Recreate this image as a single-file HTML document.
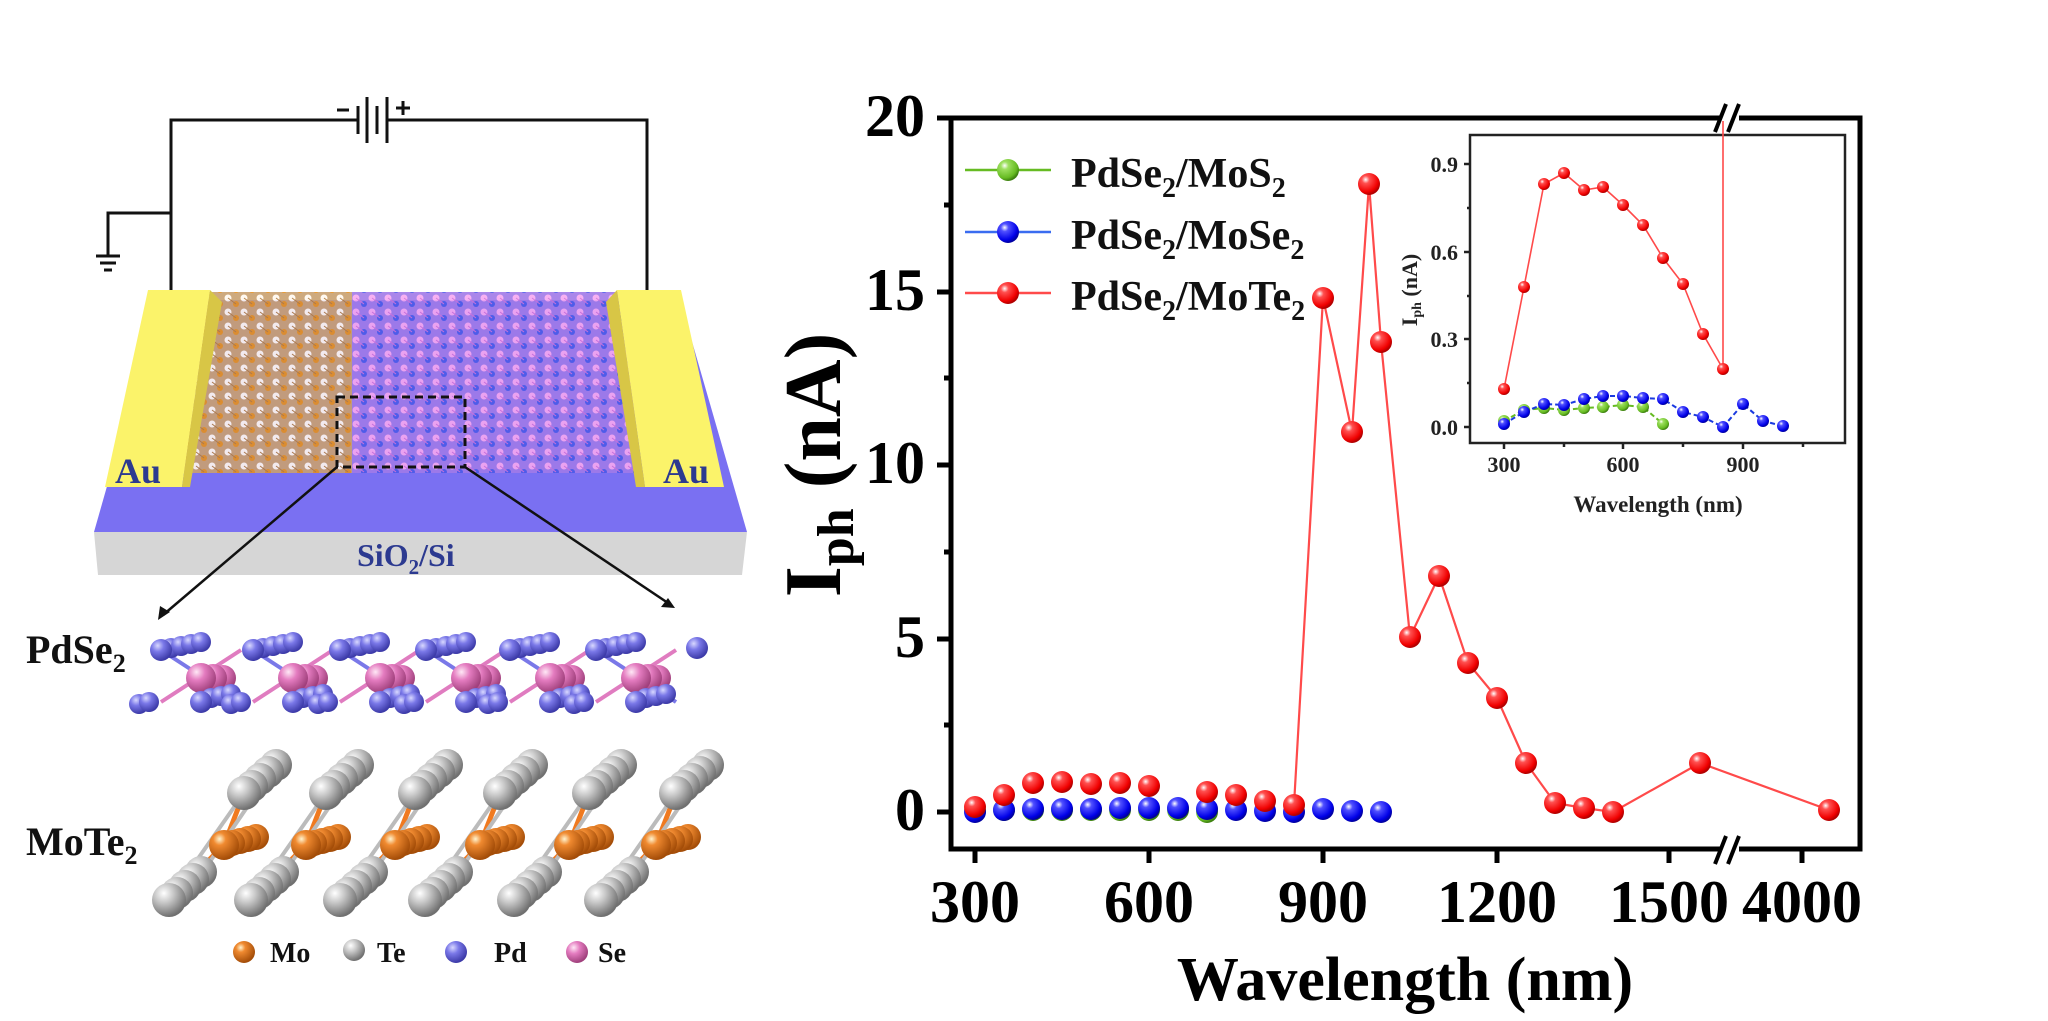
<!DOCTYPE html>
<html><head><meta charset="utf-8"><style>
html,body{margin:0;padding:0;background:#fff;}
svg{display:block;font-family:"Liberation Serif",serif;font-weight:bold;}
</style></head><body>
<svg width="2048" height="1021" viewBox="0 0 2048 1021" xmlns="http://www.w3.org/2000/svg">
<defs>
<radialGradient id="gR" cx="35%" cy="30%" r="70%"><stop offset="0" stop-color="#fff"/><stop offset="0.25" stop-color="#ff5050"/><stop offset="0.8" stop-color="#f00000"/><stop offset="1" stop-color="#b00000"/></radialGradient>
<radialGradient id="gB" cx="35%" cy="30%" r="70%"><stop offset="0" stop-color="#fff"/><stop offset="0.25" stop-color="#5050ff"/><stop offset="0.8" stop-color="#0000e8"/><stop offset="1" stop-color="#0000a0"/></radialGradient>
<radialGradient id="gG" cx="35%" cy="30%" r="70%"><stop offset="0" stop-color="#fff"/><stop offset="0.25" stop-color="#9ee060"/><stop offset="0.8" stop-color="#66bb22"/><stop offset="1" stop-color="#3d8010"/></radialGradient>
<radialGradient id="gMo" cx="35%" cy="30%" r="70%"><stop offset="0" stop-color="#fff4d0"/><stop offset="0.3" stop-color="#f08a30"/><stop offset="1" stop-color="#a44d08"/></radialGradient>
<radialGradient id="gTe" cx="35%" cy="30%" r="70%"><stop offset="0" stop-color="#fff"/><stop offset="0.4" stop-color="#c8c8c8"/><stop offset="1" stop-color="#707070"/></radialGradient>
<radialGradient id="gPd" cx="35%" cy="30%" r="70%"><stop offset="0" stop-color="#d8d8ff"/><stop offset="0.4" stop-color="#7a78e8"/><stop offset="1" stop-color="#3c3aa8"/></radialGradient>
<radialGradient id="gSe" cx="35%" cy="30%" r="70%"><stop offset="0" stop-color="#ffe8f6"/><stop offset="0.4" stop-color="#e47cc0"/><stop offset="1" stop-color="#a0407c"/></radialGradient>
<pattern id="pL" width="16" height="14" patternUnits="userSpaceOnUse"><rect width="16" height="14" fill="#c9a070"/><circle cx="4" cy="4" r="3.5" fill="#fff8ee"/><circle cx="12" cy="10" r="3" fill="#e6901c"/><line x1="4" y1="4" x2="12" y2="10" stroke="#b07a3c" stroke-width="1"/></pattern>
<pattern id="pR" width="16" height="14" patternUnits="userSpaceOnUse"><rect width="16" height="14" fill="#a07ae8"/><circle cx="4" cy="4" r="3.5" fill="#f6a8f0"/><circle cx="12" cy="10" r="3" fill="#4a5ae8"/><line x1="4" y1="4" x2="12" y2="10" stroke="#d070d8" stroke-width="1"/></pattern>
<g id="moU">
 <line x1="0" y1="0" x2="20" y2="-52" stroke="#f07a20" stroke-width="5"/>
 <line x1="0" y1="0" x2="-55" y2="55" stroke="#f07a20" stroke-width="5"/>
 <line x1="20" y1="-52" x2="-55" y2="55" stroke="#bbb" stroke-width="4"/>
 <line x1="45" y1="-70" x2="-30" y2="40" stroke="#bbb" stroke-width="4"/>
 <circle cx="32" cy="-8" r="13" fill="url(#gMo)"/><circle cx="24" cy="-6" r="13" fill="url(#gMo)"/><circle cx="16" cy="-4" r="13" fill="url(#gMo)"/><circle cx="8" cy="-2" r="13" fill="url(#gMo)"/>
 <circle cx="0" cy="0" r="15" fill="url(#gMo)"/>
 <circle cx="52" cy="-80" r="16" fill="url(#gTe)"/><circle cx="44" cy="-73" r="16" fill="url(#gTe)"/><circle cx="36" cy="-66" r="16" fill="url(#gTe)"/><circle cx="28" cy="-59" r="16" fill="url(#gTe)"/><circle cx="20" cy="-52" r="17" fill="url(#gTe)"/>
 <circle cx="-23" cy="27" r="16" fill="url(#gTe)"/><circle cx="-31" cy="34" r="16" fill="url(#gTe)"/><circle cx="-39" cy="41" r="16" fill="url(#gTe)"/><circle cx="-47" cy="48" r="16" fill="url(#gTe)"/><circle cx="-55" cy="55" r="17" fill="url(#gTe)"/>
</g>
<g id="pdU">
 <line x1="-40" y1="-28" x2="40" y2="24" stroke="#7a78e8" stroke-width="4"/>
 <line x1="-40" y1="24" x2="40" y2="-28" stroke="#e07cc0" stroke-width="4"/>
 <circle cx="-30" cy="-30" r="10" fill="url(#gPd)"/><circle cx="-20" cy="-32" r="10" fill="url(#gPd)"/><circle cx="-10" cy="-34" r="10" fill="url(#gPd)"/><circle cx="0" cy="-36" r="10" fill="url(#gPd)"/>
 <circle cx="22" cy="0" r="13" fill="url(#gSe)"/><circle cx="12" cy="0" r="14" fill="url(#gSe)"/><circle cx="0" cy="0" r="15" fill="url(#gSe)"/>
 <circle cx="-40" cy="-28" r="11" fill="url(#gPd)"/>
 <circle cx="10" cy="20" r="10" fill="url(#gPd)"/><circle cx="20" cy="18" r="10" fill="url(#gPd)"/><circle cx="30" cy="16" r="10" fill="url(#gPd)"/>
 <circle cx="0" cy="24" r="11" fill="url(#gPd)"/>
 <circle cx="-62" cy="26" r="10" fill="url(#gPd)"/><circle cx="-52" cy="24" r="10" fill="url(#gPd)"/>
</g>
</defs>

<!-- ===== Left schematic ===== -->
<g stroke="#111" stroke-width="3" fill="none">
 <polyline points="171,290 171,120 358,120"/>
 <polyline points="388,120 647,120 647,290"/>
 <polyline points="171,213 108,213 108,255"/>
 <line x1="358" y1="106" x2="358" y2="134"/>
 <line x1="367" y1="97" x2="367" y2="143"/>
 <line x1="377" y1="106" x2="377" y2="134"/>
 <line x1="387" y1="97" x2="387" y2="143"/>
 <line x1="96" y1="256" x2="120" y2="256"/>
 <line x1="100" y1="263" x2="116" y2="263"/>
 <line x1="104" y1="270" x2="112" y2="270"/>
 <line x1="337" y1="110" x2="349" y2="110"/>
 <line x1="396" y1="108" x2="410" y2="108"/>
 <line x1="403" y1="101" x2="403" y2="115"/>
</g>
<polygon points="160,300 680,300 747,532 94,532" fill="#7a70f2"/>
<polygon points="94,532 747,532 742,575 98,575" fill="#d6d6d6"/>
<polygon points="190,292 352,292 352,473 184,473" fill="url(#pL)" opacity="0.9"/>
<polygon points="352,292 628,292 638,473 352,473" fill="url(#pR)" opacity="0.9"/>
<polygon points="148,290 210,290 182,487 105,487" fill="#fbf36a"/>
<polygon points="210,290 222,302 190,487 182,487" fill="#d8c646"/>
<polygon points="617,290 681,290 724,487 645,487" fill="#fbf36a"/>
<polygon points="617,290 606,302 636,487 645,487" fill="#d8c646"/>
<text x="115" y="483" font-size="36" fill="#2c3a90">Au</text>
<text x="663" y="483" font-size="36" fill="#2c3a90">Au</text>
<text x="357" y="566" font-size="32" fill="#2c3a90">SiO<tspan font-size="21" dy="8">2</tspan><tspan dy="-8">/Si</tspan></text>
<rect x="337" y="397" width="128" height="70" fill="none" stroke="#111" stroke-width="3" stroke-dasharray="8,5"/>
<g stroke="#111" stroke-width="2.5"><line x1="337" y1="467" x2="163" y2="615"/><line x1="465" y1="467" x2="671" y2="605"/></g>
<polygon points="158,620 160,606 170,612" fill="#111"/>
<polygon points="675,608 661,607 668,598" fill="#111"/>
<text x="26" y="663" font-size="40" fill="#111">PdSe<tspan font-size="26" dy="9">2</tspan></text>
<text x="26" y="855" font-size="40" fill="#111">MoTe<tspan font-size="26" dy="9">2</tspan></text>
<use href="#pdU" x="201" y="678"/><use href="#pdU" x="293" y="678"/><use href="#pdU" x="380" y="678"/><use href="#pdU" x="466" y="678"/><use href="#pdU" x="550" y="678"/><use href="#pdU" x="636" y="678"/>
<circle cx="697" cy="648" r="11" fill="url(#gPd)"/>
<use href="#moU" x="224" y="845"/><use href="#moU" x="306" y="845"/><use href="#moU" x="395" y="845"/><use href="#moU" x="480" y="845"/><use href="#moU" x="569" y="845"/><use href="#moU" x="656" y="845"/>
<circle cx="244" cy="952" r="11" fill="url(#gMo)"/><text x="270" y="962" font-size="28" fill="#111">Mo</text>
<circle cx="354" cy="950" r="11" fill="url(#gTe)"/><text x="377" y="962" font-size="28" fill="#111">Te</text>
<circle cx="456" cy="952" r="11" fill="url(#gPd)"/><text x="494" y="962" font-size="28" fill="#111">Pd</text>
<circle cx="577" cy="952" r="11" fill="url(#gSe)"/><text x="598" y="962" font-size="28" fill="#111">Se</text>

<!-- ===== Main chart ===== -->
<g stroke="#000" stroke-width="5" fill="none">
 <rect x="951" y="118" width="909" height="731"/>
 <line x1="937" y1="118" x2="951" y2="118"/><line x1="937" y1="292" x2="951" y2="292"/><line x1="937" y1="465" x2="951" y2="465"/><line x1="937" y1="639" x2="951" y2="639"/><line x1="937" y1="812" x2="951" y2="812"/>
 <line x1="944" y1="205" x2="951" y2="205"/><line x1="944" y1="378" x2="951" y2="378"/><line x1="944" y1="552" x2="951" y2="552"/><line x1="944" y1="725" x2="951" y2="725"/>
 <line x1="975" y1="849" x2="975" y2="863"/><line x1="1149" y1="849" x2="1149" y2="863"/><line x1="1323" y1="849" x2="1323" y2="863"/><line x1="1497" y1="849" x2="1497" y2="863"/><line x1="1669" y1="849" x2="1669" y2="863"/><line x1="1802" y1="849" x2="1802" y2="863"/>
</g>
<rect x="1721" y="843" width="18" height="13" fill="#fff"/>
<rect x="1721" y="112" width="18" height="13" fill="#fff"/>
<g stroke="#000" stroke-width="4"><line x1="1715" y1="864" x2="1726" y2="836"/><line x1="1728" y1="864" x2="1739" y2="836"/><line x1="1715" y1="132" x2="1726" y2="104"/><line x1="1728" y1="132" x2="1739" y2="104"/></g>
<g font-size="60" fill="#000" text-anchor="end">
 <text x="925" y="136">20</text><text x="925" y="310">15</text><text x="925" y="483">10</text><text x="925" y="657">5</text><text x="925" y="830">0</text>
</g>
<g font-size="60" fill="#000" text-anchor="middle">
 <text x="975" y="922">300</text><text x="1149" y="922">600</text><text x="1323" y="922">900</text><text x="1497" y="922">1200</text><text x="1669" y="922">1500</text><text x="1802" y="922">4000</text>
</g>
<text x="1405" y="1000" font-size="62" text-anchor="middle" fill="#000">Wavelength (nm)</text>
<text transform="translate(840,465) rotate(-90)" font-size="80" text-anchor="middle" fill="#000">I<tspan font-size="52" dy="13">ph</tspan><tspan dy="-13"> (nA)</tspan></text>

<!-- legend -->
<g stroke-width="2.5">
 <line x1="965" y1="170" x2="1051" y2="170" stroke="#66bb22"/>
 <line x1="965" y1="232" x2="1051" y2="232" stroke="#3a6cf0"/>
 <line x1="965" y1="293" x2="1051" y2="293" stroke="#ff4a4a"/>
</g>
<circle cx="1008" cy="170" r="11" fill="url(#gG)"/>
<circle cx="1008" cy="232" r="11" fill="url(#gB)"/>
<circle cx="1008" cy="293" r="11" fill="url(#gR)"/>
<g font-size="42" fill="#111">
 <text x="1071" y="187">PdSe<tspan font-size="28" dy="10">2</tspan><tspan dy="-10">/MoS</tspan><tspan font-size="28" dy="10">2</tspan></text>
 <text x="1071" y="249">PdSe<tspan font-size="28" dy="10">2</tspan><tspan dy="-10">/MoSe</tspan><tspan font-size="28" dy="10">2</tspan></text>
 <text x="1071" y="310">PdSe<tspan font-size="28" dy="10">2</tspan><tspan dy="-10">/MoTe</tspan><tspan font-size="28" dy="10">2</tspan></text>
</g>

<!-- main series -->
<g fill="url(#gG)">
 <circle cx="975" cy="811" r="11"/><circle cx="1004" cy="810" r="11"/><circle cx="1033" cy="810" r="11"/><circle cx="1062" cy="810" r="11"/><circle cx="1091" cy="810" r="11"/><circle cx="1120" cy="810" r="11"/><circle cx="1149" cy="810" r="11"/><circle cx="1178" cy="810" r="11"/><circle cx="1207" cy="812" r="11"/>
</g>
<g fill="url(#gB)">
 <circle cx="975" cy="812" r="11"/><circle cx="1004" cy="810" r="11"/><circle cx="1033" cy="809" r="11"/><circle cx="1062" cy="809" r="11"/><circle cx="1091" cy="809" r="11"/><circle cx="1120" cy="808" r="11"/><circle cx="1149" cy="808" r="11"/><circle cx="1178" cy="808" r="11"/><circle cx="1207" cy="809" r="11"/><circle cx="1236" cy="810" r="11"/><circle cx="1265" cy="811" r="11"/><circle cx="1294" cy="812" r="11"/><circle cx="1323" cy="809" r="11"/><circle cx="1352" cy="811" r="11"/><circle cx="1381" cy="812" r="11"/>
</g>
<polyline fill="none" stroke="#ff4a4a" stroke-width="2.2" points="1294,805 1323,298 1352,432 1369,184 1381,342 1410,637 1439,576 1468,663 1497,698 1526,763 1555,803 1584,808 1613,812 1700,763 1829,810"/>
<g fill="url(#gR)">
 <circle cx="975" cy="807" r="11"/><circle cx="1004" cy="795" r="11"/><circle cx="1033" cy="783" r="11"/><circle cx="1062" cy="782" r="11"/><circle cx="1091" cy="784" r="11"/><circle cx="1120" cy="783" r="11"/><circle cx="1149" cy="786" r="11"/><circle cx="1207" cy="792" r="11"/><circle cx="1236" cy="795" r="11"/><circle cx="1265" cy="801" r="11"/><circle cx="1294" cy="805" r="11"/>
 <circle cx="1323" cy="298" r="11"/><circle cx="1352" cy="432" r="11"/><circle cx="1369" cy="184" r="11"/><circle cx="1381" cy="342" r="11"/><circle cx="1410" cy="637" r="11"/><circle cx="1439" cy="576" r="11"/><circle cx="1468" cy="663" r="11"/><circle cx="1497" cy="698" r="11"/><circle cx="1526" cy="763" r="11"/><circle cx="1555" cy="803" r="11"/><circle cx="1584" cy="808" r="11"/><circle cx="1613" cy="812" r="11"/><circle cx="1700" cy="763" r="11"/><circle cx="1829" cy="810" r="11"/>
</g>

<!-- ===== Inset ===== -->
<rect x="1470" y="135" width="375" height="308" fill="#fff" stroke="#222" stroke-width="2.5"/>
<g stroke="#222" stroke-width="2.5">
 <line x1="1464" y1="427" x2="1470" y2="427"/><line x1="1464" y1="339" x2="1470" y2="339"/><line x1="1464" y1="252" x2="1470" y2="252"/><line x1="1464" y1="164" x2="1470" y2="164"/>
 <line x1="1467" y1="383" x2="1470" y2="383"/><line x1="1467" y1="296" x2="1470" y2="296"/><line x1="1467" y1="208" x2="1470" y2="208"/>
 <line x1="1504" y1="443" x2="1504" y2="449"/><line x1="1564" y1="443" x2="1564" y2="447"/><line x1="1623" y1="443" x2="1623" y2="449"/><line x1="1683" y1="443" x2="1683" y2="447"/><line x1="1743" y1="443" x2="1743" y2="449"/><line x1="1803" y1="443" x2="1803" y2="447"/>
</g>
<g font-size="22" fill="#222" text-anchor="end">
 <text x="1458" y="435">0.0</text><text x="1458" y="347">0.3</text><text x="1458" y="260">0.6</text><text x="1458" y="172">0.9</text>
</g>
<g font-size="22" fill="#222" text-anchor="middle">
 <text x="1504" y="472">300</text><text x="1623" y="472">600</text><text x="1743" y="472">900</text>
</g>
<text x="1658" y="512" font-size="23" text-anchor="middle" fill="#222">Wavelength (nm)</text>
<text transform="translate(1417,290) rotate(-90)" font-size="22" text-anchor="middle" fill="#222">I<tspan font-size="14" dy="4">ph</tspan><tspan dy="-4"> (nA)</tspan></text>
<line x1="1723" y1="368" x2="1723" y2="121" stroke="#ff4a4a" stroke-width="1.6"/>
<polyline fill="none" stroke="#66bb22" stroke-width="2" stroke-dasharray="5,3" points="1504,421 1524,410 1544,408 1564,410 1584,408 1603,407 1623,405 1643,407 1663,424"/>
<polyline fill="none" stroke="#1a3ae0" stroke-width="2" stroke-dasharray="5,3" points="1504,424 1524,412 1544,404 1564,405 1584,399 1603,396 1623,396 1643,398 1663,399 1683,412 1703,417 1723,427 1743,404 1763,421 1783,426"/>
<polyline fill="none" stroke="#ff4a4a" stroke-width="1.6" points="1504,389 1524,287 1544,184 1564,173 1584,190 1603,187 1623,205 1643,225 1663,258 1683,284 1703,334 1723,369"/>
<g fill="url(#gG)">
 <circle cx="1504" cy="421" r="6"/><circle cx="1524" cy="410" r="6"/><circle cx="1544" cy="408" r="6"/><circle cx="1564" cy="410" r="6"/><circle cx="1584" cy="408" r="6"/><circle cx="1603" cy="407" r="6"/><circle cx="1623" cy="405" r="6"/><circle cx="1643" cy="407" r="6"/><circle cx="1663" cy="424" r="6"/>
</g>
<g fill="url(#gB)">
 <circle cx="1504" cy="424" r="6"/><circle cx="1524" cy="412" r="6"/><circle cx="1544" cy="404" r="6"/><circle cx="1564" cy="405" r="6"/><circle cx="1584" cy="399" r="6"/><circle cx="1603" cy="396" r="6"/><circle cx="1623" cy="396" r="6"/><circle cx="1643" cy="398" r="6"/><circle cx="1663" cy="399" r="6"/><circle cx="1683" cy="412" r="6"/><circle cx="1703" cy="417" r="6"/><circle cx="1723" cy="427" r="6"/><circle cx="1743" cy="404" r="6"/><circle cx="1763" cy="421" r="6"/><circle cx="1783" cy="426" r="6"/>
</g>
<g fill="url(#gR)">
 <circle cx="1504" cy="389" r="6"/><circle cx="1524" cy="287" r="6"/><circle cx="1544" cy="184" r="6"/><circle cx="1564" cy="173" r="6"/><circle cx="1584" cy="190" r="6"/><circle cx="1603" cy="187" r="6"/><circle cx="1623" cy="205" r="6"/><circle cx="1643" cy="225" r="6"/><circle cx="1663" cy="258" r="6"/><circle cx="1683" cy="284" r="6"/><circle cx="1703" cy="334" r="6"/><circle cx="1723" cy="369" r="6"/>
</g>
</svg>
</body></html>
